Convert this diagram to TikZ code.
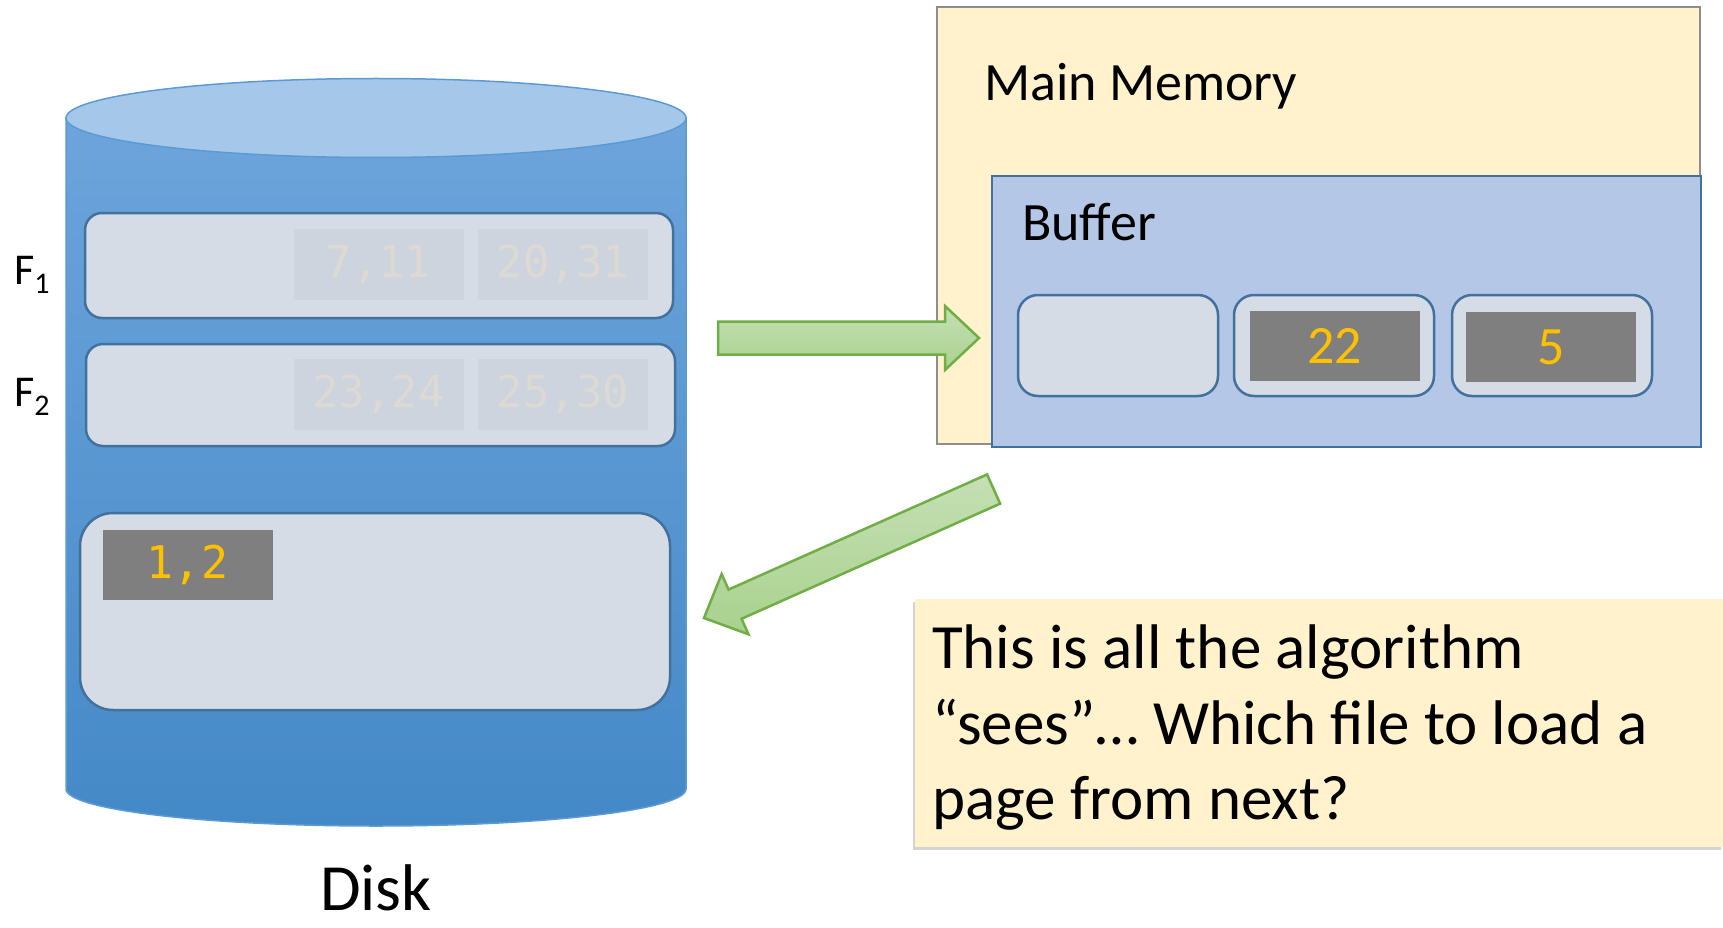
\documentclass[tikz,border=0pt]{standalone}
\usepackage{fontspec}
\setmainfont{Carlito}
\newfontfamily\codefont{DejaVu Sans Mono}
\usetikzlibrary{shadows}

\definecolor{diskTop}{HTML}{A5C7EA}
\definecolor{diskEdge}{HTML}{5B9BD5}
\definecolor{diskHi}{HTML}{6DA4DB}
\definecolor{diskLo}{HTML}{4489C7}
\definecolor{pageFill}{HTML}{D6DCE5}
\definecolor{pageEdge}{HTML}{41719C}
\definecolor{fadeFill}{HTML}{CDD4DE}
\definecolor{fadeText}{HTML}{DCDAD2}
\definecolor{cellFill}{HTML}{7F7F7F}
\definecolor{valText}{HTML}{FFC000}
\definecolor{memFill}{HTML}{FFF2CC}
\definecolor{memEdge}{HTML}{8E8E8E}
\definecolor{bufFill}{HTML}{B4C7E7}
\definecolor{arrowEdge}{HTML}{70AD47}
\definecolor{arrowDark}{HTML}{A9D18E}
\definecolor{arrowLight}{HTML}{C5E0B4}

\begin{document}
\begin{tikzpicture}[x=1pt,y=-1pt,
  page/.style={draw=pageEdge,line width=2.5pt,fill=pageFill,rounded corners=17pt,inner sep=0pt},
  cell/.style={fill=cellFill,text=valText,minimum width=170pt,minimum height=70pt,inner sep=0pt},
  fade/.style={fill=fadeFill,text=fadeText,minimum width=170pt,minimum height=71pt,inner sep=0pt,font=\codefont\fontsize{44}{44}\selectfont},
  lbl/.style={anchor=base west,inner sep=0pt},
  blockarrow/.style={draw=arrowEdge,line width=2.5pt,top color=arrowLight,bottom color=arrowDark,line join=miter}]
\useasboundingbox (0,0) rectangle (1723,928);
% disk
\path[draw=diskEdge,line width=1.5pt,top color=diskHi,bottom color=diskLo]
  (66,118) -- (66,789) arc[start angle=180,end angle=360,x radius=310pt,y radius=37pt] -- (686,118) -- cycle;
\filldraw[draw=diskEdge,line width=1.5pt,fill=diskTop] (376,118) ellipse [x radius=310pt,y radius=39.5pt];
\node[page,minimum width=588pt,minimum height=105pt] (f1) at (379,265.5) {};
\node[page,minimum width=589pt,minimum height=102pt] (f2) at (380.5,395) {};
\node[page,rounded corners=33pt,minimum width=590pt,minimum height=197pt] (out) at (375,611.5) {};
\node[fade] (f1a) at (378.5,264.5) {7,11};
\node[fade] (f1b) at (563,264.5) {20,31};
\node[fade] (f2a) at (378.5,394) {23,24};
\node[fade] (f2b) at (563,394) {25,30};
\node[cell,font=\codefont\fontsize{45}{45}\selectfont] (o1) at (187.5,564.5) {1,2};
\node[lbl,font=\fontsize{44}{44}\selectfont] (l1) at (14,284) {F\raisebox{-9pt}{\fontsize{30}{30}\selectfont 1}};
\node[lbl,font=\fontsize{44}{44}\selectfont] (l2) at (14,406) {F\raisebox{-9pt}{\fontsize{30}{30}\selectfont 2}};
\node[anchor=base,inner sep=0pt,font=\fontsize{66}{66}\selectfont] (disk) at (376,910) {Disk};
% memory
\node[draw=memEdge,line width=2pt,fill=memFill,minimum width=763pt,minimum height=437pt,inner sep=0pt] (mem) at (1318.5,225.5) {};
\node[lbl,font=\fontsize{54}{54}\selectfont] (memlbl) at (984,101) {Main Memory};
\node[draw=pageEdge,line width=2.5pt,fill=bufFill,minimum width=709pt,minimum height=271pt,inner sep=0pt] (buf) at (1346.5,311.5) {};
\node[lbl,font=\fontsize{54}{54}\selectfont] (buflbl) at (1022,240) {Buffer};
\node[page,rounded corners=20pt,minimum width=200pt,minimum height=101pt] (s1) at (1118,345.5) {};
\node[page,rounded corners=20pt,minimum width=200pt,minimum height=101pt] (s2) at (1334,345.5) {};
\node[page,rounded corners=20pt,minimum width=200pt,minimum height=101pt] (s3) at (1552,345.5) {};
\node[cell,font=\fontsize{54}{54}\selectfont] (v22) at (1334.5,346) {22};
\node[cell,font=\fontsize{54}{54}\selectfont] (v5) at (1551,347) {5};
% arrows
\begin{scope}[shift={(979,338)}]
\path[blockarrow] (0,0) -- (-34,-32) -- (-34,-16.5) -- (-261,-16.5) -- (-261,16.5) -- (-34,16.5) -- (-34,32) -- cycle;
\end{scope}
\begin{scope}[shift={(704,618)},rotate=204]
\path[blockarrow] (0,0) -- (-34,-33) -- (-34,-16) -- (-317,-16) -- (-317,16) -- (-34,16) -- (-34,33) -- cycle;
\end{scope}
% note
\node[fill=memFill,minimum width=808pt,minimum height=248pt,inner sep=0pt,
  drop shadow={shadow xshift=-2pt,shadow yshift=-3pt,opacity=0.35}] (note) at (1319,723) {};
\node[lbl,font=\fontsize{63}{63}\selectfont] (n1) at (932,668) {This is all the algorithm};
\node[lbl,font=\fontsize{63}{63}\selectfont] (n2) at (932,744) {“sees”… Which file to load a};
\node[lbl,font=\fontsize{63}{63}\selectfont] (n3) at (932,819) {page from next?};
\end{tikzpicture}
\end{document}
